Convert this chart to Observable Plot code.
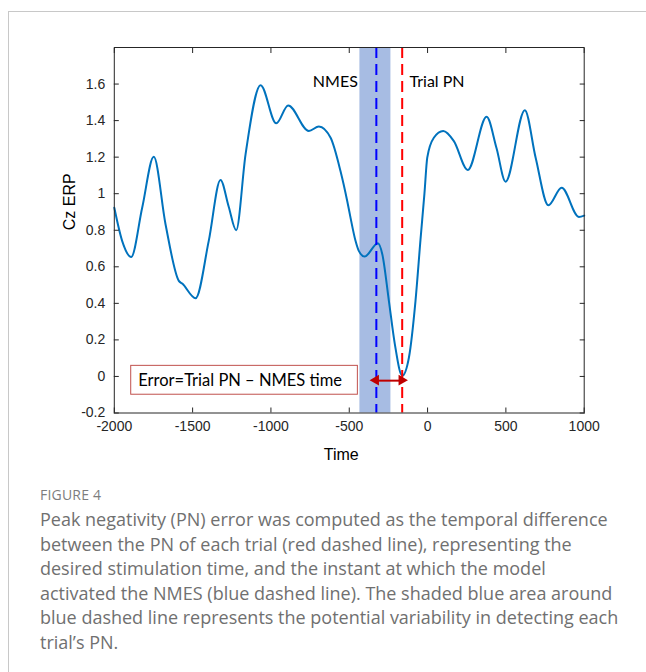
<!DOCTYPE html>
<html><head><meta charset="utf-8">
<script src="https://cdn.jsdelivr.net/npm/d3@7"></script>
<script src="https://cdn.jsdelivr.net/npm/@observablehq/plot@0.6"></script>
<style>
body{margin:0;background:#fff;width:646px;height:672px;overflow:hidden;position:relative;font-family:"Liberation Sans",Arial,sans-serif;}
#frame{position:absolute;left:8px;top:11px;width:700px;height:700px;border-top:1px solid #c8c8c8;border-left:1px solid #c8c8c8;}
#chart{position:absolute;left:0;top:0;}
#chart svg g[aria-label$="tick label"] text{font-size:14px !important;font-family:"Liberation Sans",Arial,sans-serif !important;fill:#262626;}
#fig{position:absolute;left:40px;top:485px;font-family:"Open Sans",sans-serif;font-size:14px;color:#7d7d7d;letter-spacing:0.2px;}
#cap{position:absolute;left:40px;top:507px;font-family:"Open Sans",sans-serif;font-size:18px;line-height:24.6px;color:#707070;white-space:nowrap;}
</style></head><body>
<div id="frame"></div>
<div id="chart"></div>
<div id="fig">FIGURE 4</div>
<div id="cap">Peak negativity (PN) error was computed as the temporal difference<br>between the PN of each trial (red dashed line), representing the<br>desired stimulation time, and the instant at which the model<br>activated the NMES (blue dashed line). The shaded blue area around<br>blue dashed line represents the potential variability in detecting each<br>trial’s PN.</div>
<script>
// ERP trace (time in ms, Cz amplitude)
const timeMs = [-2000,-1950,-1892,-1822,-1748,-1673,-1588,-1566,-1481,-1397,-1322,-1270,-1222,-1162,-1066,-966,-890,-758,-694,-619,-556,-513,-492,-460,-439,-402,-317,-289,-247,-209,-162,-119,-77,-45,-20,-2,40,100,168,257,377,440,498,621,690,771,856,966,1000];
const czErp  = [0.923,0.742,0.654,0.923,1.202,0.833,0.523,0.508,0.428,0.742,1.075,0.93,0.80,1.215,1.594,1.385,1.483,1.343,1.368,1.306,1.124,0.96,0.869,0.742,0.687,0.656,0.729,0.669,0.414,0.177,0.004,0.104,0.414,0.75,1.0,1.197,1.306,1.343,1.288,1.13,1.421,1.25,1.066,1.457,1.197,0.937,1.033,0.873,0.88];

// markers
const nmesTime = [-327];
const trialPNTime = [-162];
const bandStart = [-432];
const bandEnd = [-234];

// axis ticks
const xTicks = [-2000,-1500,-1000,-500,0,500,1000];
const yTicks = [-0.2,0,0.2,0.4,0.6,0.8,1,1.2,1.4,1.6];
const yTickLabels = ["-0.2","0","0.2","0.4","0.6","0.8","1","1.2","1.4","1.6"];

// annotations
const nmesLabel = ["NMES"];
const trialLabel = ["Trial PN"];
const markerLabelX = [-445,-115];
const markerLabelY = [1.61,1.61];
const errorText = ["Error=Trial PN – NMES time"];
const errorTextPos = [-1847,-0.023];
const errorBox = [-1892,-445,-0.10,0.058];
const arrowY = [-0.023];

const trace = timeMs.map((t,i)=>({t, v: czErp[i]}));
const band = bandStart.map((s,i)=>({s, e: bandEnd[i]}));
const arrowData = [{x1: nmesTime[0], x2: trialPNTime[0], y: arrowY[0]}];
const heads = [{x: nmesTime[0], y: arrowY[0], r: -90, dx: 4}, {x: trialPNTime[0], y: arrowY[0], r: 90, dx: -4}];

const calibri = "Lato, 'Open Sans', sans-serif";
const tickFont = 14;
const chart = Plot.plot({
  width: 646, height: 470,
  marginTop: 47, marginBottom: 57.5, marginLeft: 113.8, marginRight: 62.3,
  x: {domain: [-2000, 1000]},
  y: {domain: [-0.2, 1.8]},
  style: {fontFamily: "'Liberation Sans', Arial, sans-serif", fontSize: "14px", color: "#262626", background: "transparent"},
  marks: [
    Plot.rect(band, {x1: "s", x2: "e", fill: "#a7bce3"}),
    Plot.line(trace, {x: "t", y: "v", stroke: "#0072bd", strokeWidth: 2, curve: "monotone-x"}),
    Plot.ruleX(nmesTime, {stroke: "#0000ff", strokeWidth: 2, strokeDasharray: "11,6"}),
    Plot.ruleX(trialPNTime, {stroke: "#ff0000", strokeWidth: 2, strokeDasharray: "11,6"}),
    Plot.rect([errorBox], {x1: d=>d[0], x2: d=>d[1], y1: d=>d[2], y2: d=>d[3], fill: "white", stroke: "#c0504d", strokeWidth: 1}),
    Plot.text(errorText, {x: errorTextPos[0], y: errorTextPos[1], text: d=>d, textAnchor: "start", fontFamily: calibri, fontSize: 16.5, fill: "black"}),
    Plot.link(arrowData, {x1: "x1", x2: "x2", y1: "y", y2: "y", stroke: "#c00000", strokeWidth: 2}),
    Plot.dot(heads, {x: "x", y: "y", symbol: "triangle", rotate: "r", dx: "dx", r: 4, fill: "#c00000", stroke: "none"}),
    Plot.text(nmesLabel, {x: markerLabelX[0], y: markerLabelY[0], text: d=>d, textAnchor: "end", fontFamily: calibri, fontSize: 16, fill: "black"}),
    Plot.text(trialLabel, {x: markerLabelX[1], y: markerLabelY[1], text: d=>d, textAnchor: "start", fontFamily: calibri, fontSize: 16, fill: "black"}),
    Plot.frame({stroke: "#262626"}),
    Plot.axisX(xTicks, {anchor: "bottom", tickSize: -5, tickPadding: 13, tickFormat: d=>String(d), label: null, stroke: "#262626", fontSize: tickFont, fill: "#262626"}),
    Plot.axisX(xTicks, {anchor: "top", tickSize: -5, tickFormat: () => "", label: null, stroke: "#262626"}),
    Plot.axisY(yTicks, {anchor: "left", tickSize: -5, tickPadding: 14, tickFormat: d=>yTickLabels[yTicks.indexOf(d)], label: null, stroke: "#262626", fontSize: tickFont, fill: "#262626"}),
    Plot.axisY(yTicks, {anchor: "right", tickSize: -5, tickFormat: () => "", label: null, stroke: "#262626"}),
    Plot.text(["Cz ERP"], {frameAnchor: "left", dx: -44, rotate: -90, text: d=>d, fontSize: 16, fill: "black"}),
    Plot.text(["Time"], {frameAnchor: "bottom", dx: -8, dy: 47, text: d=>d, fontSize: 16, fill: "black"})
  ]
});
document.getElementById("chart").appendChild(chart);
</script>
</body></html>
